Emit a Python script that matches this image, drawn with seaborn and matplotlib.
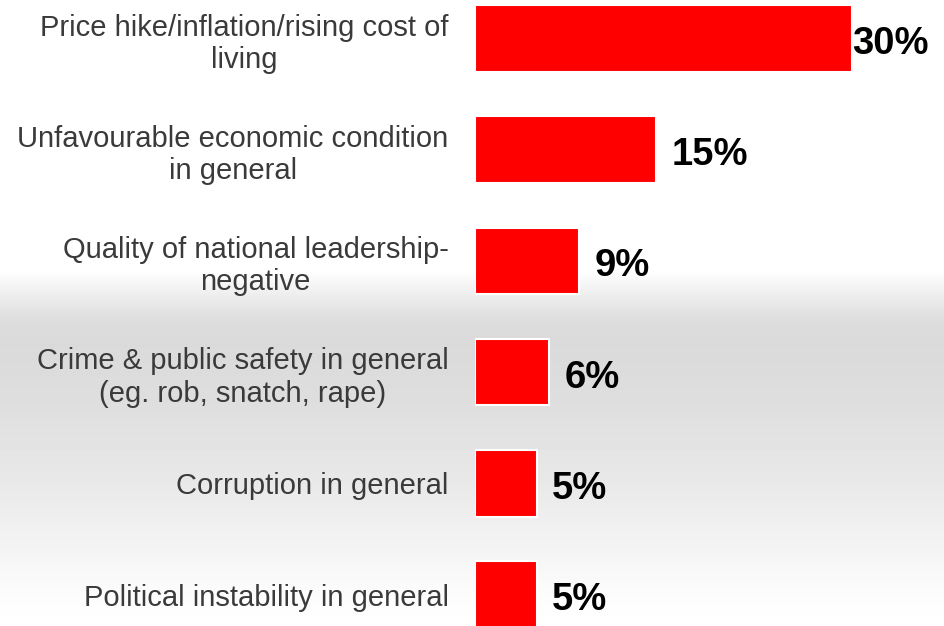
import numpy as np
import pandas as pd
import matplotlib
matplotlib.use("Agg")
import matplotlib.pyplot as plt
import seaborn as sns

categories = [
    "Price hike/inflation/rising cost of\nliving",
    "Unfavourable economic condition\nin general",
    "Quality of national leadership-\nnegative",
    "Crime & public safety in general\n(eg. rob, snatch, rape)",
    "Corruption in general",
    "Political instability in general",
]
values = [30.0, 14.4, 8.3, 5.9, 4.9, 4.9]
value_labels = ["30%", "15%", "9%", "6%", "5%", "5%"]

df = pd.DataFrame({"cat": categories, "val": values})

sns.set_theme(style="white")
plt.rcParams["font.family"] = ["Liberation Sans", "DejaVu Sans"]

W, H = 944, 626
fig = plt.figure(figsize=(W / 100, H / 100), dpi=100)

# background gradient
bg = fig.add_axes([0, 0, 1, 1], zorder=0)
ys = np.arange(H)
stops_y = [0, 270, 295, 320, 345, 400, 480, 560, 600, H]
stops_v = [1.0, 1.0, 0.93, 0.865, 0.855, 0.87, 0.91, 0.965, 0.99, 1.0]
col = np.interp(ys, stops_y, stops_v)
img = np.repeat(col[:, None], 10, axis=1)
bg.imshow(img, cmap="gray", vmin=0, vmax=1, aspect="auto", extent=[0, 1, 1, 0])
bg.set_axis_off()

left_px = 475
ax = fig.add_axes([left_px / W, 0, 1 - left_px / W, 1], zorder=1)
ax.patch.set_alpha(0)

sns.barplot(data=df, x="val", y="cat", orient="h", color="#ff0000",
            width=0.6, edgecolor="white", linewidth=1.5, saturation=1, ax=ax)

px_per_unit = 377 / 30.0
ax.set_xlim(0, (W - left_px) / px_per_unit)
spacing = 111.2
c0 = 38.5
ax.set_ylim((H - c0) / spacing, -c0 / spacing)

ax.set_xlabel("")
ax.set_ylabel("")
ax.set_xticks([])
ax.tick_params(axis="y", length=0, pad=19, labelsize=21, labelcolor="#3a3a3a")
for t in ax.get_yticklabels():
    t.set_horizontalalignment("right")
    t.set_multialignment("center")
    t.set_linespacing(1.2)
for s in ax.spines.values():
    s.set_visible(False)

vmax = max(values)
for i, (v, lab) in enumerate(zip(values, value_labels)):
    off = 0 if v == vmax else 11
    ax.annotate(lab, xy=(v, i), xytext=(off, -4), textcoords="offset points",
                ha="left", va="center", fontsize=27.5, fontweight="bold",
                color="black", annotation_clip=False)

fig.savefig("out.png", dpi=100)
